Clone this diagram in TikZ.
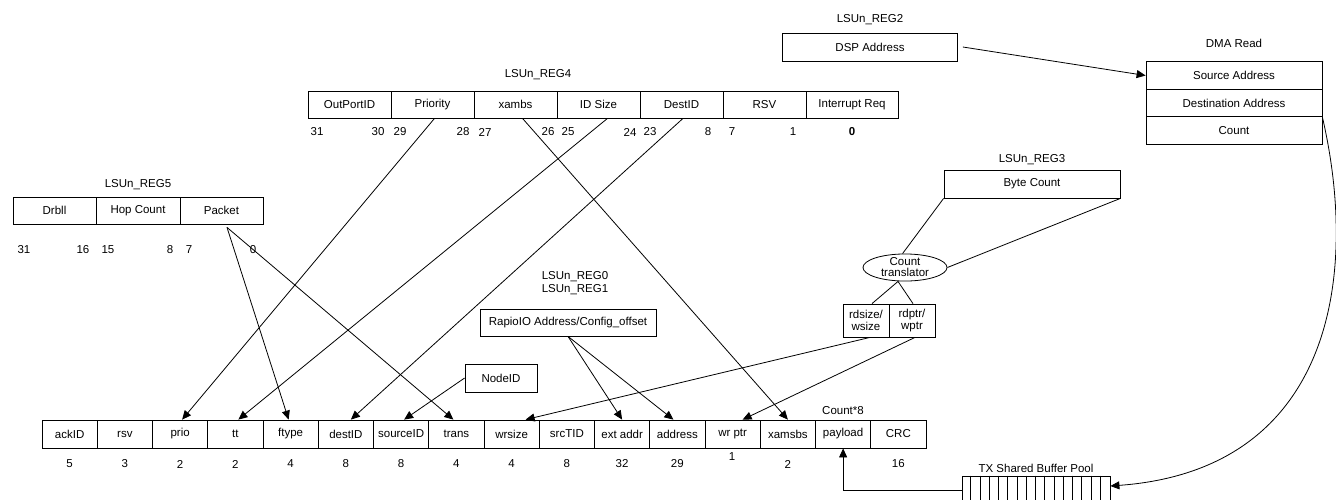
\documentclass[tikz,border=0pt]{standalone}
\usepackage{fontspec}
\setmainfont{Liberation Sans}
\usetikzlibrary{arrows.meta,shapes.geometric,calc}
\tikzset{
  cell/.style={draw, line width=0.8pt, minimum height=27pt, inner sep=0pt, anchor=center},
  lbl/.style={inner sep=0pt},
  arr/.style={line width=0.8pt, -{Triangle[length=9pt,width=8pt]}},
  ln/.style={line width=0.8pt}
}
\begin{document}
\begin{tikzpicture}[x=1pt,y=-1pt,font=\fontsize{11.5}{12}\selectfont]
\clip (0,0) rectangle (1336,499);
\fill[white] (0,0) rectangle (1336,499);

% ---------- LSUn_REG4 ----------
\node[lbl] (r4lab) at (538,75) {LSUn\_REG4};
\node[cell, minimum width=83pt] (r4a) at (349.5,104.5) {OutPortID};
\node[cell, minimum width=83pt] (r4b) at (432.5,104.5) {Priority};
\node[cell, minimum width=83pt] (r4c) at (515.5,104.5) {xambs};
\node[cell, minimum width=83pt] (r4d) at (598.5,104.5) {ID Size};
\node[cell, minimum width=83pt] (r4e) at (681.5,104.5) {DestID};
\node[cell, minimum width=83pt] (r4f) at (764.5,104.5) {RSV};
\node[cell, minimum width=92pt] (r4g) at (852,104.5) {Interrupt Req};
\foreach \x/\t [count=\k] in {317/31,378/30,400/29,463/28,485/27,548/26,568/25,630/24,650/23,708/8,732/7,793/1,852/\textbf{0}}
  \node[lbl] (r4n\k) at (\x,132) {\t};

% ---------- LSUn_REG5 ----------
\node[lbl] (r5lab) at (138,185) {LSUn\_REG5};
\node[cell, minimum width=83pt] (r5a) at (54.5,210.5) {Drbll};
\node[cell, minimum width=84pt] (r5b) at (138,210.5) {Hop Count};
\node[cell, minimum width=83pt] (r5c) at (221.5,210.5) {Packet};
\foreach \x/\t [count=\k] in {24/31,83/16,108/15,170/8,189/7,253/0}
  \node[lbl] (r5n\k) at (\x,250) {\t};

% ---------- LSUn_REG2 / DMA ----------
\node[lbl] (r2lab) at (870,20) {LSUn\_REG2};
\node[cell, minimum width=175pt, minimum height=28pt] (dsp) at (870,47) {DSP Address};
\node[lbl] (dmalab) at (1234,43) {DMA Read};
\node[cell, minimum width=176pt, minimum height=27.5pt] (dma1) at (1234,75.5) {Source Address};
\node[cell, minimum width=176pt, minimum height=27.5pt] (dma2) at (1234,103) {Destination Address};
\node[cell, minimum width=176pt, minimum height=27.5pt] (dma3) at (1234,130.5) {Count};

% ---------- LSUn_REG3 ----------
\node[lbl] (r3lab) at (1032,160) {LSUn\_REG3};
\node[cell, minimum width=176pt, minimum height=28pt] (bc) at (1032,184) {Byte Count};
\node[draw, ln, ellipse, inner sep=0pt, minimum width=84pt, minimum height=25pt, align=center,
      font=\fontsize{11.5}{11}\selectfont] (ct) at (905,267.5) {Count\\translator};
\node[cell, minimum width=46pt, minimum height=33pt, align=center] (rd1) at (866,320.5) {rdsize/\\wsize};
\node[cell, minimum width=46pt, minimum height=33pt, align=center] (rd2) at (912,320.5) {rdptr/\\wptr};

% ---------- LSUn_REG0/1, NodeID ----------
\node[lbl, align=center, font=\fontsize{11.5}{13}\selectfont] (r01lab) at (575,283.5) {LSUn\_REG0\\LSUn\_REG1};
\node[cell, minimum width=176pt, minimum height=27pt] (rap) at (568,322.5) {RapioIO Address/Config\_offset};
\node[cell, minimum width=72pt, minimum height=28pt] (nid) at (501,378) {NodeID};

% ---------- Packet row ----------
\foreach \i/\t in {1/ackID,2/rsv,3/prio,4/tt,5/ftype,6/destID,7/sourceID,8/trans,9/wrsize,10/srcTID,11/ext addr,12/address,13/wr ptr,14/xamsbs,15/payload,16/CRC}
  \node[cell, minimum width=55.25pt, minimum height=28pt] (b\i) at ({42+55.25*(\i-0.5)},434) {\t};
\foreach \i/\n in {1/5,2/3,3/2,4/2,5/4,6/8,7/8,8/4,9/4,10/8,11/32,12/29,14/2,16/16}
  \node[lbl] (n\i) at ({42+55.25*(\i-0.5)},464) {\n};
\node[lbl] (n13) at (732,457) {1};
\node[lbl] (cnt8) at (843,411) {Count*8};

% ---------- TX Shared Buffer Pool ----------
\node[lbl] (pl) at (1036,468) {TX Shared Buffer Pool};
\node[draw, ln, minimum width=148pt, minimum height=44pt, inner sep=0pt] (pool) at (1036,498) {};
\foreach \j in {1,...,15}
  \draw[ln] ($(pool.north west)+(\j*9.25,0)$) -- ($(pool.south west)+(\j*9.25,0)$);

% ---------- Connectors ----------
\draw[arr] ([xshift=2pt]r4b.south) -- ([xshift=2pt]b3.north);
\draw[arr] ([xshift=9pt]r4d.south) -- ([xshift=3pt]b4.north);
\draw[arr] ([xshift=1.5pt]r4e.south) -- ([xshift=5pt]b6.north);
\draw[arr] ([xshift=7pt]r4c.south) -- (b14.north);
\draw[arr] ([xshift=5.5pt,yshift=-3pt]r5c.south) -- ([xshift=-2pt]b5.north);
\draw[arr] ([xshift=5.5pt,yshift=-3pt]r5c.south) -- ([xshift=-3pt]b8.north);
\draw[arr] (nid.west) -- ([xshift=3pt]b7.north);
\draw[arr] (rap.south) -- (b11.north);
\draw[arr] (rap.south) -- ([xshift=-4pt]b12.north);
\draw[arr] ([xshift=4pt]rd1.south) -- ([xshift=14pt]b9.north);
\draw[arr] ([xshift=3pt]rd2.south) -- ([xshift=10pt]b13.north);
\draw[ln] ([xshift=-7pt]ct.south) -- ([xshift=6pt]rd1.north);
\draw[ln] ([xshift=-7pt]ct.south) -- ([xshift=1pt]rd2.north);
\draw[ln] (bc.south west) -- (ct.100);
\draw[ln] (bc.south east) -- (ct.east);
\draw[arr] ([xshift=5pt]dsp.east) -- (dma1.west);
\draw[arr] (dma2.south east) .. controls (1360,280) and (1330,470) .. ([yshift=12pt]pool.east);
\draw[arr] ([yshift=8pt]pool.west) -| (b15.south);
\end{tikzpicture}
\end{document}
